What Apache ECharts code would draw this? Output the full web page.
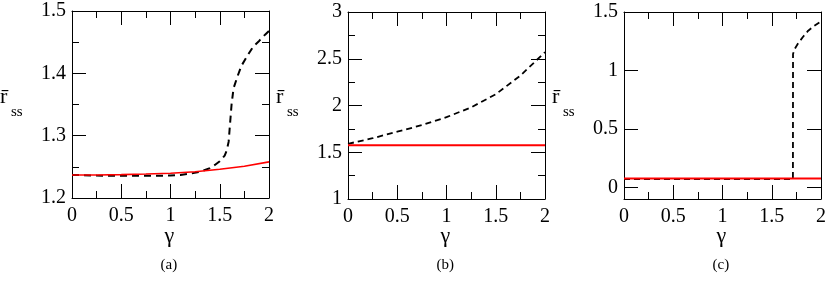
<!DOCTYPE html>
<html><head><meta charset="utf-8">
<script src="https://cdn.jsdelivr.net/npm/echarts@6/dist/echarts.min.js"></script>
<style>html,body{margin:0;padding:0;background:#fff}#c{width:830px;height:288px}</style>
</head><body><div id="c"></div>
<script>
// ---- data ----
var cTicks = [0, 0.5, 1, 1.5];
// panel (a)
var aRedX = [0, 0.25, 0.5, 0.75, 1.0, 1.25, 1.5, 1.75, 2.0];
var aRedY = [1.237, 1.237, 1.2375, 1.2385, 1.2397, 1.242, 1.246, 1.251, 1.258];
var aBlkX = [0, 0.25, 0.5, 0.75, 1.0, 1.1, 1.2, 1.3, 1.35, 1.4, 1.45, 1.5, 1.55, 1.57, 1.59, 1.6, 1.61, 1.62, 1.64, 1.68, 1.72, 1.78, 1.84, 1.9, 1.96, 2.0];
var aBlkY = [1.237, 1.236, 1.2355, 1.2355, 1.236, 1.237, 1.239, 1.242, 1.245, 1.248, 1.253, 1.259, 1.268, 1.276, 1.29, 1.31, 1.33, 1.35, 1.376, 1.395, 1.412, 1.428, 1.443, 1.452, 1.462, 1.468];
// panel (b)
var bRedX = [0, 2];
var bRedY = [1.575, 1.575];
var bBlkX = [0, 0.25, 0.5, 0.75, 1.0, 1.25, 1.5, 1.75, 2.0];
var bBlkY = [1.59, 1.65, 1.72, 1.79, 1.875, 1.98, 2.12, 2.32, 2.57];
// panel (c)
var cRedX = [0, 2];
var cRedY = [0.075, 0.075];
var cBlkX = [0, 0.5, 1.0, 1.5, 1.715, 1.716, 1.73, 1.77, 1.82, 1.87, 1.93, 2.0];
var cBlkY = [0.07, 0.07, 0.07, 0.07, 0.07, 1.14, 1.18, 1.235, 1.29, 1.34, 1.38, 1.42];
var panelLabels = ['(a)', '(b)', '(c)'];

function zip(xs, ys) { return xs.map(function (x, i) { return [x, ys[i]]; }); }

var FONT = 'Liberation Serif';
var grids = [
  {left: 72, top: 11, width: 197, height: 187},
  {left: 348, top: 12, width: 197, height: 187},
  {left: 624, top: 12, width: 197, height: 187}
];
var yRanges = [[1.2, 1.5, 0.1], [1, 3, 0.5], [-0.1, 1.5, 0]];

function mkLine() { return {show: true, onZero: false, lineStyle: {color: '#000', width: 1}}; }
function mkTick() { return {show: true, inside: true, length: 14, lineStyle: {color: '#000', width: 1}}; }
function mkMinor() { return {show: true, splitNumber: 2, length: 7, lineStyle: {color: '#000', width: 1}}; }

var xAxes = [], yAxes = [], series = [], graphics = [];
grids.forEach(function (g, i) {
  var r = yRanges[i];
  xAxes.push({type: 'value', gridIndex: i, position: 'bottom', min: 0, max: 2, interval: 0.5,
    axisLine: mkLine(), splitLine: {show: false}, axisTick: mkTick(), minorTick: mkMinor(),
    axisLabel: {show: true, color: '#000', fontFamily: FONT, fontSize: 20, margin: 8}});
  xAxes.push({type: 'value', gridIndex: i, position: 'top', min: 0, max: 2, interval: 0.5,
    axisLine: mkLine(), splitLine: {show: false}, axisTick: mkTick(), minorTick: mkMinor(),
    axisLabel: {show: false}});
  var yl = {type: 'value', gridIndex: i, position: 'left', min: r[0], max: r[1],
    axisLine: mkLine(), splitLine: {show: false}, axisTick: mkTick(),
    axisLabel: {show: true, color: '#000', fontFamily: FONT, fontSize: 20, margin: 6}};
  var yr = {type: 'value', gridIndex: i, position: 'right', min: r[0], max: r[1],
    axisLine: mkLine(), splitLine: {show: false}, axisTick: mkTick(), axisLabel: {show: false}};
  if (r[2]) {
    yl.interval = r[2]; yr.interval = r[2];
    yl.minorTick = mkMinor(); yr.minorTick = mkMinor();
  } else {
    yl.axisTick.customValues = cTicks; yl.axisLabel.customValues = cTicks;
    yr.axisTick.customValues = cTicks;
  }
  yAxes.push(yl, yr);
  var cx = g.left + g.width / 2;
  graphics.push({type: 'text', left: cx - 6, top: 225,
    style: {text: 'γ', fontFamily: FONT, fontSize: 22, fill: '#000'}});
  graphics.push({type: 'text', left: cx - 10, top: 258,
    style: {text: panelLabels[i], fontFamily: FONT, fontSize: 15, fill: '#000'}});
  graphics.push({type: 'text', left: g.left - 72, top: 86,
    style: {text: 'r\u0304', fontFamily: FONT, fontSize: 22, fill: '#000'}});
  graphics.push({type: 'text', left: g.left - 61, top: 105,
    style: {text: 'ss', fontFamily: FONT, fontSize: 15, fill: '#000'}});
});

function addLine(gi, data, style) {
  series.push({type: 'line', xAxisIndex: gi * 2, yAxisIndex: gi * 2, data: data, zlevel: 1,
    showSymbol: false, symbol: 'none', lineStyle: style});
}
addLine(0, zip(aBlkX, aBlkY), {color: '#000', width: 2, type: [7, 5]});
addLine(0, zip(aRedX, aRedY), {color: '#ff0000', width: 1.6});
addLine(1, zip(bBlkX, bBlkY), {color: '#000', width: 1.8, type: [6, 4]});
addLine(1, zip(bRedX, bRedY), {color: '#ff0000', width: 2});
addLine(2, zip(cBlkX, cBlkY), {color: '#000', width: 1.8, type: [6, 4]});
addLine(2, zip(cRedX, cRedY), {color: '#ff0000', width: 2});

var chart = echarts.init(document.getElementById('c'), null, {renderer: 'canvas'});
chart.setOption({
  animation: false,
  grid: grids,
  xAxis: xAxes,
  yAxis: yAxes,
  series: series,
  graphic: graphics
});
</script></body></html>
